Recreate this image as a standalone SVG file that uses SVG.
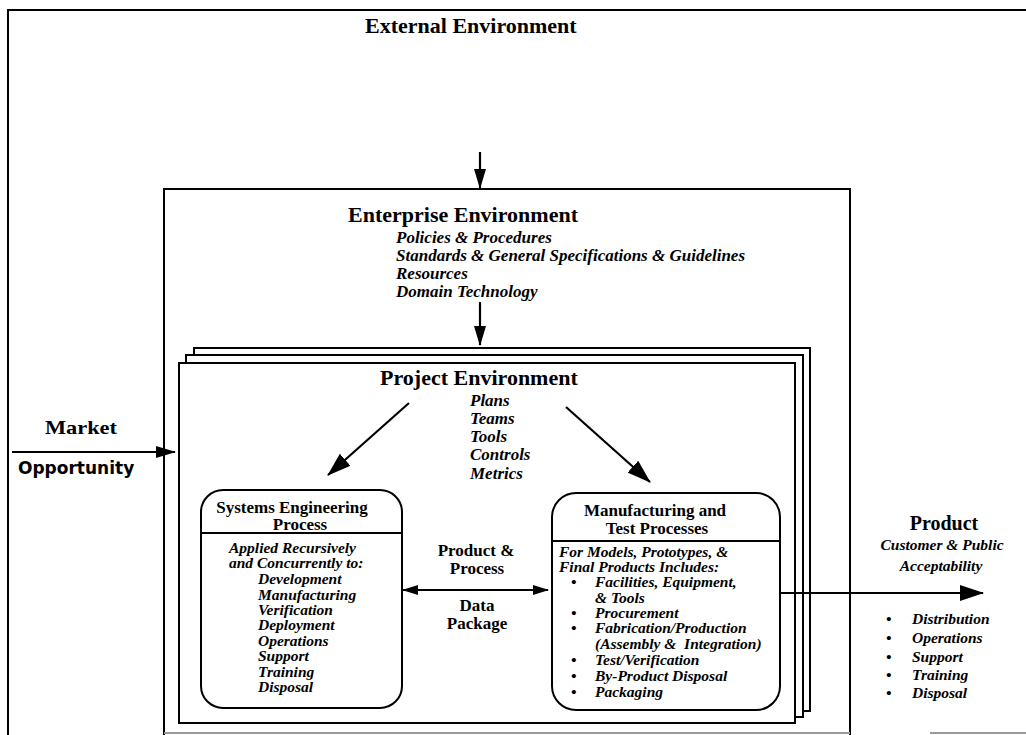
<svg xmlns="http://www.w3.org/2000/svg" width="1026" height="735" viewBox="0 0 1026 735">
<style>
.ln{stroke:#000;stroke-width:2;fill:none}
.fr{stroke:#000;stroke-width:2;fill:#fff}
.big{font-family:"Liberation Serif","Times New Roman",serif;font-weight:bold;font-size:22px;fill:#000}
.ttl{font-family:"Liberation Serif","Times New Roman",serif;font-weight:bold;font-size:17px;fill:#000}
.it{font-family:"Liberation Serif","Times New Roman",serif;font-weight:bold;font-style:italic;font-size:15.5px;fill:#000}
.it17{font-family:"Liberation Serif","Times New Roman",serif;font-weight:bold;font-style:italic;font-size:17px;fill:#000}
.sans{font-family:"DejaVu Sans",sans-serif;font-weight:bold;font-size:17px;fill:#000}
.mid{text-anchor:middle}
.conn{stroke:#000;stroke-width:2.2;fill:none}
</style>
<defs>
<marker id="ah" viewBox="0 0 20 12" refX="19" refY="6" markerWidth="20" markerHeight="12" markerUnits="userSpaceOnUse" orient="auto-start-reverse">
<path d="M0,0 L20,6 L0,12 Z" fill="#000"/>
</marker>
<marker id="ahs" viewBox="0 0 16 10" refX="15" refY="5" markerWidth="16" markerHeight="10" markerUnits="userSpaceOnUse" orient="auto-start-reverse">
<path d="M0,0 L16,5 L0,10 Z" fill="#000"/>
</marker>
<marker id="ahl" viewBox="0 0 24 16" refX="23" refY="8" markerWidth="24" markerHeight="16" markerUnits="userSpaceOnUse" orient="auto">
<path d="M0,0 L24,8 L0,16 Z" fill="#000"/>
</marker>
</defs>

<g id="external">
<path class="ln" d="M1026,10 H8 V735"/>
<line x1="930" y1="733" x2="1026" y2="733" stroke="#999" stroke-width="2"/>
<text class="big" x="365" y="33">External Environment</text>
</g>

<g id="enterprise">
<path class="ln" d="M164,735 V189 H850 V735"/>
<line x1="164" y1="733" x2="850" y2="733" stroke="#999" stroke-width="2"/>
<text class="big" x="348" y="222">Enterprise Environment</text>
<text class="it17" x="396" y="243">Policies &amp; Procedures</text>
<text class="it17" x="396" y="261">Standards &amp; General Specifications &amp; Guidelines</text>
<text class="it17" x="396" y="279">Resources</text>
<text class="it17" x="396" y="297">Domain Technology</text>
</g>

<g id="project">
<rect class="fr" x="194" y="348" width="616" height="363"/>
<rect class="fr" x="186" y="355" width="617" height="362"/>
<rect class="fr" x="179" y="363" width="616" height="360"/>
<text class="big" x="380" y="385">Project Environment</text>
<text class="it17" x="470" y="406">Plans</text>
<text class="it17" x="470" y="424">Teams</text>
<text class="it17" x="470" y="442">Tools</text>
<text class="it17" x="470" y="460">Controls</text>
<text class="it17" x="470" y="479">Metrics</text>
</g>

<g id="systems">
<rect class="fr" x="201" y="490" width="201" height="218" rx="22" ry="22"/>
<line class="ln" x1="202" y1="533" x2="401" y2="533" stroke-width="1.5"/>
<text class="ttl mid" x="292" y="513">Systems Engineering</text>
<text class="ttl mid" x="300" y="530">Process</text>
<text class="it" x="229" y="553">Applied Recursively</text>
<text class="it" x="229" y="568">and Concurrently to:</text>
<text class="it" x="258" y="584">Development</text>
<text class="it" x="258" y="599.5">Manufacturing</text>
<text class="it" x="258" y="615">Verification</text>
<text class="it" x="258" y="630">Deployment</text>
<text class="it" x="258" y="645.5">Operations</text>
<text class="it" x="258" y="661">Support</text>
<text class="it" x="258" y="676.5">Training</text>
<text class="it" x="258" y="692">Disposal</text>
</g>

<g id="manufacturing">
<rect class="fr" x="552" y="493" width="228" height="217" rx="24" ry="24"/>
<line class="ln" x1="553" y1="541" x2="779" y2="541" stroke-width="1.5"/>
<text class="ttl mid" x="655" y="516">Manufacturing and</text>
<text class="ttl mid" x="657" y="534">Test Processes</text>
<text class="it" x="559" y="557">For Models, Prototypes, &amp;</text>
<text class="it" x="559" y="572">Final Products Includes:</text>
<text class="it" x="571" y="587">•</text><text class="it" x="595" y="587">Facilities, Equipment,</text>
<text class="it" x="595" y="603">&amp; Tools</text>
<text class="it" x="571" y="618">•</text><text class="it" x="595" y="618">Procurement</text>
<text class="it" x="571" y="633">•</text><text class="it" x="595" y="633">Fabrication/Production</text>
<text class="it" x="595" y="649" xml:space="preserve">(Assembly &amp;  Integration)</text>
<text class="it" x="571" y="665">•</text><text class="it" x="595" y="665">Test/Verification</text>
<text class="it" x="571" y="681">•</text><text class="it" x="595" y="681">By-Product Disposal</text>
<text class="it" x="571" y="697">•</text><text class="it" x="595" y="697">Packaging</text>
</g>

<g id="market">
<text class="ttl" x="45" y="434" style="font-size:19px" textLength="72" lengthAdjust="spacingAndGlyphs">Market</text>
<text class="sans" x="18" y="474">Opportunity</text>
</g>

<g id="datapackage">
<text class="ttl mid" x="476" y="556">Product &amp;</text>
<text class="ttl mid" x="477" y="574">Process</text>
<text class="ttl mid" x="477" y="611">Data</text>
<text class="ttl mid" x="477" y="629">Package</text>
</g>

<g id="product">
<text class="big mid" x="944" y="530" style="font-size:20px">Product</text>
<text class="it mid" x="942" y="550">Customer &amp; Public</text>
<text class="it mid" x="941" y="571">Acceptability</text>
<text class="it" x="886" y="624">•</text><text class="it" x="912" y="624">Distribution</text>
<text class="it" x="886" y="643">•</text><text class="it" x="912" y="643">Operations</text>
<text class="it" x="886" y="662">•</text><text class="it" x="912" y="662">Support</text>
<text class="it" x="886" y="680">•</text><text class="it" x="912" y="680">Training</text>
<text class="it" x="886" y="698">•</text><text class="it" x="912" y="698">Disposal</text>
</g>

<g id="connectors">
<line class="conn" x1="480" y1="152" x2="480" y2="188" marker-end="url(#ah)"/>
<line class="conn" x1="480" y1="302" x2="480" y2="345" marker-end="url(#ah)"/>
<line class="conn" x1="12" y1="452" x2="175" y2="452" marker-end="url(#ah)"/>
<line class="conn" x1="409" y1="403" x2="328" y2="475" marker-end="url(#ahl)"/>
<line class="conn" x1="566" y1="407" x2="650" y2="482" marker-end="url(#ahl)"/>
<line class="conn" x1="403" y1="590" x2="548" y2="590" marker-start="url(#ahs)" marker-end="url(#ahs)"/>
<line class="conn" x1="781" y1="593" x2="983" y2="593" marker-end="url(#ahl)"/>
</g>
</svg>
